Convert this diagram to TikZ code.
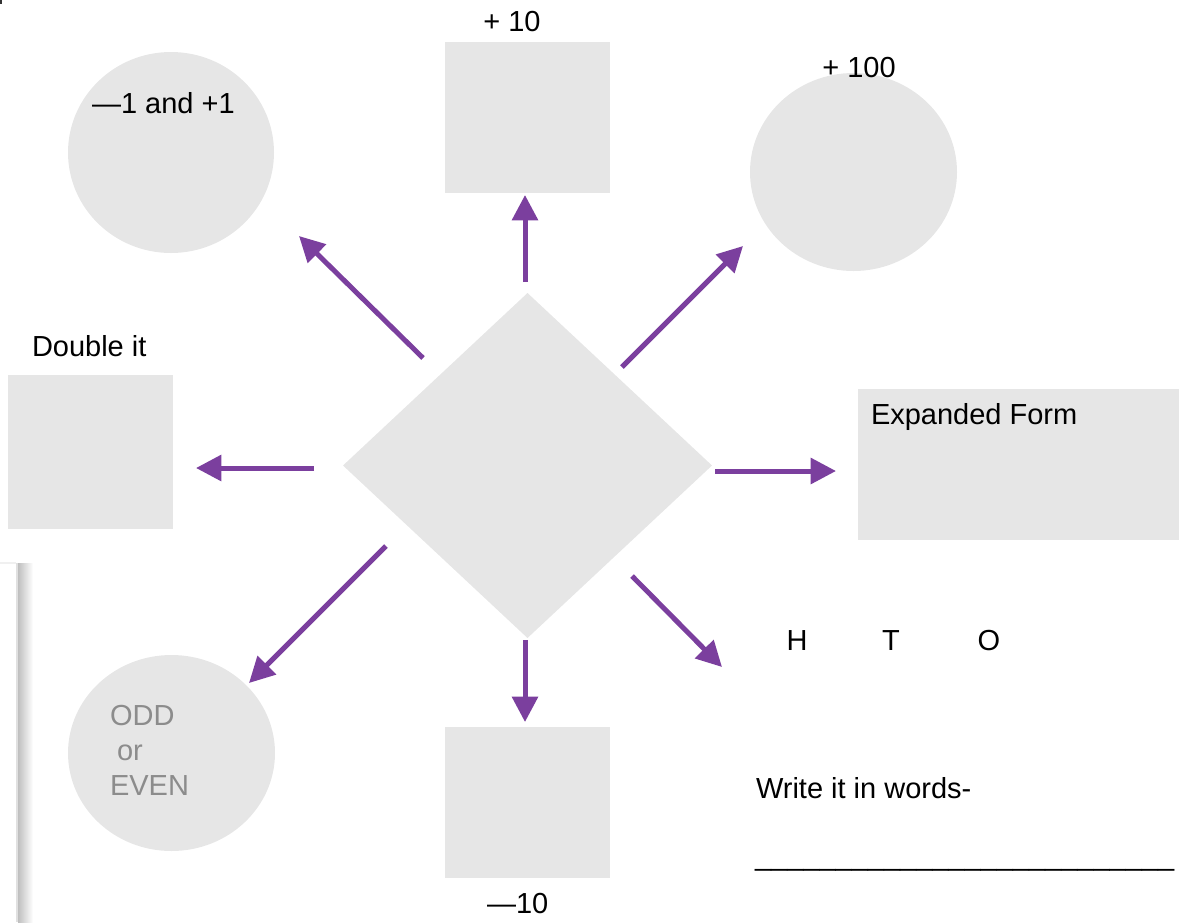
\documentclass[tikz,border=0pt]{standalone}
\usepackage{fontspec}
\setmainfont{Liberation Sans}
\usetikzlibrary{arrows.meta,shapes.geometric}
\definecolor{boxgray}{RGB}{230,230,230}
\definecolor{arrowpurple}{RGB}{123,63,158}
\definecolor{oddgray}{RGB}{140,140,140}
\begin{document}
\begin{tikzpicture}[x=0.75pt,y=-0.75pt,
  graybox/.style={fill=boxgray,draw=none,inner sep=0pt,outer sep=0pt},
  boxsq/.style={graybox,rectangle},
  blob/.style={graybox,ellipse},
  lbl/.style={inner sep=0pt,outer sep=0pt,font=\fontsize{21.75}{26}\selectfont},
  purplearrow/.style={draw=arrowpurple,line width=3.75pt,-{Triangle[length=19pt,width=19pt]}},
]
\useasboundingbox (0,0) rectangle (1181,922);
% window edge at the left
\fill[black!6] (0,562) rectangle (16,564);
\fill[black!12] (16,563) rectangle (18,922);
\shade[left color=black!25,right color=white] (18,563) rectangle (33,922);
% tiny mark at top left
\fill[black!80] (0,0) rectangle (2,4);

% shapes
\node[blob,minimum width=154.5pt,minimum height=150.75pt] (c1) at (171,152.5) {};
\node[blob,minimum width=155.25pt,minimum height=148.5pt] (c2) at (853.5,172) {};
\node[blob,minimum width=155.25pt,minimum height=147pt] (c3) at (171.5,753) {};
\node[boxsq,minimum width=123.75pt,minimum height=113.25pt] (sqtop) at (527.5,117.5) {};
\node[boxsq,minimum width=123.75pt,minimum height=113.25pt] (sqbot) at (527.5,802.5) {};
\node[boxsq,minimum width=123.75pt,minimum height=115.5pt] (sqleft) at (90.5,452) {};
\node[boxsq,minimum width=240.75pt,minimum height=113.25pt] (rectright) at (1018.5,464.5) {};
\node[graybox,diamond,minimum width=276.75pt,minimum height=258.75pt] (dia) at (527.5,465.5) {};

% labels
\node[lbl,anchor=base] (tenp) at (512,31) {+ 10};
\node[lbl,anchor=base west] (pm1) at (92,113) {—1 and +1};
\node[lbl,anchor=base] (hund) at (859,77) {+ 100};
\node[lbl,anchor=base west] (dbl) at (32,356) {Double it};
\node[lbl,anchor=base west] (expf) at (871,424) {Expanded Form};
\node[lbl,anchor=base] (hh) at (797,650) {H};
\node[lbl,anchor=base] (tt) at (891,650) {T};
\node[lbl,anchor=base] (oo) at (989,650) {O};
\node[lbl,anchor=base west] (words) at (756,798) {Write it in words-};
\node[lbl,anchor=base west] (uline) at (755,865) {\_\_\_\_\_\_\_\_\_\_\_\_\_\_\_\_\_\_\_\_\_\_\_\_\_\_};
\node[lbl,anchor=base west] (mten) at (487,913) {—10};
\node[lbl,anchor=base west,text=oddgray] (odd) at (110,725) {ODD};
\node[lbl,anchor=base west,text=oddgray] (orr) at (117,760) {or};
\node[lbl,anchor=base west,text=oddgray] (even) at (110,795) {EVEN};

% arrow end points
\coordinate (uS) at (525,282);  \coordinate (uE) at (525,195);
\coordinate (ulS) at (423,358); \coordinate (ulE) at (299,236);
\coordinate (urS) at (622,367); \coordinate (urE) at (743,246);
\coordinate (lS) at (314,468);  \coordinate (lE) at (196,468);
\coordinate (rS) at (715,471);  \coordinate (rE) at (836,471);
\coordinate (dlS) at (386,546); \coordinate (dlE) at (249,683);
\coordinate (dS) at (525,640);  \coordinate (dE) at (525,722);
\coordinate (drS) at (632,576); \coordinate (drE) at (722,667);

\draw[purplearrow] (uS) -- (uE);
\draw[purplearrow] (ulS) -- (ulE);
\draw[purplearrow] (urS) -- (urE);
\draw[purplearrow] (lS) -- (lE);
\draw[purplearrow] (rS) -- (rE);
\draw[purplearrow] (dlS) -- (dlE);
\draw[purplearrow] (dS) -- (dE);
\draw[purplearrow] (drS) -- (drE);
\end{tikzpicture}
\end{document}
